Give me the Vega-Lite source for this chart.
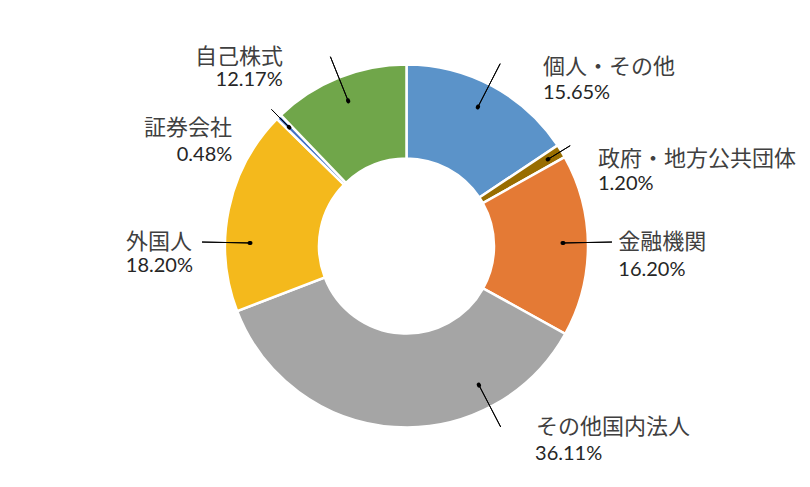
{
  "$schema": "https://vega.github.io/schema/vega-lite/v6.json",
  "width": 807,
  "height": 482,
  "autosize": {"type": "none"},
  "padding": {"left": 3, "top": 5, "right": 0, "bottom": 0},
  "background": "white",
  "config": {"view": {"stroke": null}},
  "data": {
    "values": [
      {"idx": 1, "name": "個人・その他", "value": 15.65},
      {"idx": 2, "name": "政府・地方公共団体", "value": 1.20},
      {"idx": 3, "name": "金融機関", "value": 16.20},
      {"idx": 4, "name": "その他国内法人", "value": 36.11},
      {"idx": 5, "name": "外国人", "value": 18.20},
      {"idx": 6, "name": "証券会社", "value": 0.48},
      {"idx": 7, "name": "自己株式", "value": 12.17}
    ]
  },
  "transform": [
    {"stack": "value", "groupby": [], "sort": [{"field": "idx", "order": "ascending"}], "as": ["v0", "v1"]},
    {"calculate": "(datum.v0 + datum.v1) / 2", "as": "mid"},
    {"calculate": "format(datum.value, '.2f') + '%'", "as": "pct"}
  ],
  "layer": [
    {
      "mark": {"type": "arc", "radius": 181.5, "radius2": 87.5, "stroke": "#ffffff", "strokeWidth": 2.5},
      "encoding": {
        "theta": {"field": "v0", "type": "quantitative", "stack": null, "scale": {"domain": [0, 100.01]}},
        "theta2": {"field": "v1"},
        "color": {
          "field": "name",
          "type": "nominal",
          "legend": null,
          "scale": {
            "domain": ["個人・その他", "政府・地方公共団体", "金融機関", "その他国内法人", "外国人", "証券会社", "自己株式"],
            "range": ["#5B93C9", "#986D00", "#E47A35", "#A5A5A5", "#F4B91C", "#4472C4", "#70A64A"]
          }
        }
      }
    },
    {
      "transform": [{"filter": "datum.idx === 1"}],
      "encoding": {"theta": {"field": "mid", "type": "quantitative", "stack": null, "scale": {"domain": [0, 100.01]}}},
      "layer": [
        {"mark": {"type": "arc", "radius": 205, "radius2": 156.3, "thetaOffset": -0.017, "theta2Offset": -0.017, "filled": false, "stroke": "#000", "strokeWidth": 1}, "encoding": {"theta2": {"field": "mid"}}},
        {"mark": {"type": "arc", "radius": 156.8, "radius2": 155.8, "thetaOffset": -0.017, "theta2Offset": -0.017, "filled": false, "stroke": "#000", "strokeWidth": 4, "strokeCap": "round", "strokeJoin": "round"}, "encoding": {"theta2": {"field": "mid"}}},
        {"mark": {"type": "text", "radius": 205, "align": "left", "baseline": "middle", "dx": 39.7, "dy": 2.0, "font": "Noto Sans CJK JP", "fontSize": 22, "color": "#404040"}, "encoding": {"text": {"field": "name"}}},
        {"mark": {"type": "text", "radius": 205, "align": "left", "baseline": "middle", "dx": 39.7, "dy": 27.5, "font": "Lato", "fontSize": 20, "color": "#262626"}, "encoding": {"text": {"field": "pct"}}}
      ]
    },
    {
      "transform": [{"filter": "datum.idx === 2"}],
      "encoding": {"theta": {"field": "mid", "type": "quantitative", "stack": null, "scale": {"domain": [0, 100.01]}}},
      "layer": [
        {"mark": {"type": "arc", "radius": 192, "radius2": 166, "filled": false, "stroke": "#000", "strokeWidth": 1}, "encoding": {"theta2": {"field": "mid"}}},
        {"mark": {"type": "arc", "radius": 166.5, "radius2": 165.5, "filled": false, "stroke": "#000", "strokeWidth": 4, "strokeCap": "round", "strokeJoin": "round"}, "encoding": {"theta2": {"field": "mid"}}},
        {"mark": {"type": "text", "radius": 205, "align": "left", "baseline": "middle", "dx": 16.7, "dy": 20.4, "font": "Noto Sans CJK JP", "fontSize": 22, "color": "#404040"}, "encoding": {"text": {"field": "name"}}},
        {"mark": {"type": "text", "radius": 205, "align": "left", "baseline": "middle", "dx": 16.7, "dy": 45.4, "font": "Lato", "fontSize": 20, "color": "#262626"}, "encoding": {"text": {"field": "pct"}}}
      ]
    },
    {
      "transform": [{"filter": "datum.idx === 3"}],
      "encoding": {"theta": {"field": "mid", "type": "quantitative", "stack": null, "scale": {"domain": [0, 100.01]}}},
      "layer": [
        {"mark": {"type": "arc", "radius": 205.5, "radius2": 156.5, "thetaOffset": -0.016, "theta2Offset": -0.016, "filled": false, "stroke": "#000", "strokeWidth": 1}, "encoding": {"theta2": {"field": "mid"}}},
        {"mark": {"type": "arc", "radius": 157, "radius2": 156, "thetaOffset": -0.016, "theta2Offset": -0.016, "filled": false, "stroke": "#000", "strokeWidth": 4, "strokeCap": "round", "strokeJoin": "round"}, "encoding": {"theta2": {"field": "mid"}}},
        {"mark": {"type": "text", "radius": 205, "align": "left", "baseline": "middle", "dx": 6.8, "dy": -3.0, "font": "Noto Sans CJK JP", "fontSize": 22, "color": "#404040"}, "encoding": {"text": {"field": "name"}}},
        {"mark": {"type": "text", "radius": 205, "align": "left", "baseline": "middle", "dx": 6.8, "dy": 24.3, "font": "Lato", "fontSize": 20, "color": "#262626"}, "encoding": {"text": {"field": "pct"}}}
      ]
    },
    {
      "transform": [{"filter": "datum.idx === 4"}],
      "encoding": {"theta": {"field": "mid", "type": "quantitative", "stack": null, "scale": {"domain": [0, 100.01]}}},
      "layer": [
        {"mark": {"type": "arc", "radius": 204, "radius2": 156.8, "thetaOffset": -0.549, "theta2Offset": -0.549, "filled": false, "stroke": "#000", "strokeWidth": 1}, "encoding": {"theta2": {"field": "mid"}}},
        {"mark": {"type": "arc", "radius": 157.3, "radius2": 156.3, "thetaOffset": -0.549, "theta2Offset": -0.549, "filled": false, "stroke": "#000", "strokeWidth": 4, "strokeCap": "round", "strokeJoin": "round"}, "encoding": {"theta2": {"field": "mid"}}},
        {"mark": {"type": "text", "radius": 205, "align": "left", "baseline": "middle", "dx": 143.7, "dy": -23.2, "font": "Noto Sans CJK JP", "fontSize": 22, "color": "#404040"}, "encoding": {"text": {"field": "name"}}},
        {"mark": {"type": "text", "radius": 205, "align": "left", "baseline": "middle", "dx": 142.7, "dy": 3.8, "font": "Lato", "fontSize": 20, "color": "#262626"}, "encoding": {"text": {"field": "pct"}}}
      ]
    },
    {
      "transform": [{"filter": "datum.idx === 5"}],
      "encoding": {"theta": {"field": "mid", "type": "quantitative", "stack": null, "scale": {"domain": [0, 100.01]}}},
      "layer": [
        {"mark": {"type": "arc", "radius": 204.5, "radius2": 156.5, "thetaOffset": -0.185, "theta2Offset": -0.185, "filled": false, "stroke": "#000", "strokeWidth": 1}, "encoding": {"theta2": {"field": "mid"}}},
        {"mark": {"type": "arc", "radius": 157, "radius2": 156, "thetaOffset": -0.185, "theta2Offset": -0.185, "filled": false, "stroke": "#000", "strokeWidth": 4, "strokeCap": "round", "strokeJoin": "round"}, "encoding": {"theta2": {"field": "mid"}}},
        {"mark": {"type": "text", "radius": 205, "align": "right", "baseline": "middle", "dx": -13.8, "dy": 37.9, "font": "Noto Sans CJK JP", "fontSize": 22, "color": "#404040"}, "encoding": {"text": {"field": "name"}}},
        {"mark": {"type": "text", "radius": 205, "align": "right", "baseline": "middle", "dx": -12.8, "dy": 61.1, "font": "Lato", "fontSize": 20, "color": "#262626"}, "encoding": {"text": {"field": "pct"}}}
      ]
    },
    {
      "transform": [{"filter": "datum.idx === 6"}],
      "encoding": {"theta": {"field": "mid", "type": "quantitative", "stack": null, "scale": {"domain": [0, 100.01]}}},
      "layer": [
        {"mark": {"type": "arc", "radius": 192, "radius2": 167, "filled": false, "stroke": "#000", "strokeWidth": 1}, "encoding": {"theta2": {"field": "mid"}}},
        {"mark": {"type": "arc", "radius": 167.5, "radius2": 166.5, "filled": false, "stroke": "#000", "strokeWidth": 4, "strokeCap": "round", "strokeJoin": "round"}, "encoding": {"theta2": {"field": "mid"}}},
        {"mark": {"type": "text", "radius": 205, "align": "right", "baseline": "middle", "dx": -30.4, "dy": 28.1, "font": "Noto Sans CJK JP", "fontSize": 22, "color": "#404040"}, "encoding": {"text": {"field": "name"}}},
        {"mark": {"type": "text", "radius": 205, "align": "right", "baseline": "middle", "dx": -30.1, "dy": 54.9, "font": "Lato", "fontSize": 20, "color": "#262626"}, "encoding": {"text": {"field": "pct"}}}
      ]
    },
    {
      "transform": [{"filter": "datum.idx === 7"}],
      "encoding": {"theta": {"field": "mid", "type": "quantitative", "stack": null, "scale": {"domain": [0, 100.01]}}},
      "layer": [
        {"mark": {"type": "arc", "radius": 204, "radius2": 156.4, "filled": false, "stroke": "#000", "strokeWidth": 1}, "encoding": {"theta2": {"field": "mid"}}},
        {"mark": {"type": "arc", "radius": 156.9, "radius2": 155.9, "filled": false, "stroke": "#000", "strokeWidth": 4, "strokeCap": "round", "strokeJoin": "round"}, "encoding": {"theta2": {"field": "mid"}}},
        {"mark": {"type": "text", "radius": 205, "align": "right", "baseline": "middle", "dx": -47, "dy": 1.3, "font": "Noto Sans CJK JP", "fontSize": 22, "color": "#404040"}, "encoding": {"text": {"field": "name"}}},
        {"mark": {"type": "text", "radius": 205, "align": "right", "baseline": "middle", "dx": -47.3, "dy": 24.3, "font": "Lato", "fontSize": 20, "color": "#262626"}, "encoding": {"text": {"field": "pct"}}}
      ]
    }
  ]
}
